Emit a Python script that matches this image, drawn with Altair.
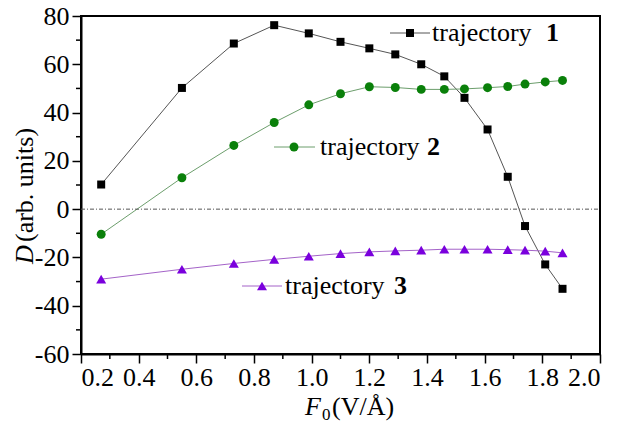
import altair as alt
import pandas as pd

# ---- data ----
F0 = [0.27, 0.55, 0.73, 0.87, 0.99, 1.10, 1.20, 1.29, 1.38, 1.46, 1.53, 1.61, 1.68, 1.74, 1.81, 1.87]
traj1 = [10.2, 50.2, 68.6, 76.2, 72.8, 69.3, 66.6, 64.1, 60.0, 55.0, 46.1, 33.0, 13.4, -7.0, -22.9, -33.0]
traj2 = [-10.4, 13.0, 26.4, 35.9, 43.2, 47.8, 50.7, 50.4, 49.6, 49.6, 49.8, 50.3, 50.8, 51.8, 52.7, 53.3]
traj3 = [-29.0, -24.9, -22.5, -20.8, -19.5, -18.4, -17.7, -17.3, -17.0, -16.6, -16.6, -16.6, -16.8, -17.0, -17.4, -18.1]

x_major = [0.2, 0.4, 0.6, 0.8, 1.0, 1.2, 1.4, 1.6, 1.8, 2.0]
x_minor = [0.3, 0.5, 0.7, 0.9, 1.1, 1.3, 1.5, 1.7, 1.9]
y_major = [-60, -40, -20, 0, 20, 40, 60, 80]
y_minor = [-50, -30, -10, 10, 30, 50, 70]

series_names = ["trajectory ", "trajectory", "trajectory"]
series_nums = ["1", "2", "3"]

# ---- layout ----
PL, PT, W, H = 81, 16, 519, 338
FONT = "Liberation Serif, Times New Roman, Times, serif"

xs = alt.Scale(domain=[0.2, 2.0], nice=False, zero=False)
ys = alt.Scale(domain=[-60, 80], nice=False, zero=False)

x_axis = alt.Axis(values=x_major, format=".1f", title=None, grid=False,
                  labelFont=FONT, labelFontSize=26, labelColor="black",
                  tickColor="black", tickWidth=1.5, tickSize=9,
                  domainColor="black", domainWidth=2, labelPadding=1)
y_axis = alt.Axis(values=y_major, title=None, grid=False,
                  labelExpr="'' + datum.value",
                  labelFont=FONT, labelFontSize=26, labelColor="black",
                  tickColor="black", tickWidth=1.5, tickSize=9,
                  domainColor="black", domainWidth=2, labelPadding=3)

one = pd.DataFrame({"k": [0]})


def series_layers(yvals, line_color, pt_color, shape, size):
    df = pd.DataFrame({"F0": F0, "D": yvals})
    base = alt.Chart(df).encode(
        x=alt.X("F0:Q", scale=xs, axis=x_axis),
        y=alt.Y("D:Q", scale=ys, axis=y_axis),
    )
    line = base.mark_line(color=line_color, strokeWidth=1)
    pts = base.mark_point(shape=shape, filled=True, color=pt_color, size=size, opacity=1)
    return [line, pts]


zero_line = alt.Chart(pd.DataFrame({"D": [0]})).mark_rule(
    color="#555555", strokeDash=[4, 2, 1, 2], strokeWidth=1).encode(
    y=alt.Y("D:Q", scale=ys, axis=y_axis), x=alt.value(0), x2=alt.value(W)
)

minor_x = alt.Chart(pd.DataFrame({"F0": x_minor})).mark_rule(color="black", strokeWidth=1.5).encode(
    x=alt.X("F0:Q", scale=xs, axis=x_axis), y=alt.value(H), y2=alt.value(H + 5)
)
minor_y = alt.Chart(pd.DataFrame({"D": y_minor})).mark_rule(color="black", strokeWidth=1.5).encode(
    y=alt.Y("D:Q", scale=ys, axis=y_axis), x=alt.value(-5), x2=alt.value(0)
)


def legend(x1, x2, xm, ym, line_color, pt_color, shape, size, tx, nx, base_y, name, num):
    r = alt.Chart(one).mark_rule(color=line_color, strokeWidth=1).encode(
        x=alt.value(x1 - PL), x2=alt.value(x2 - PL), y=alt.value(ym - PT))
    p = alt.Chart(one).mark_point(shape=shape, filled=True, color=pt_color, size=size, opacity=1).encode(
        x=alt.value(xm - PL), y=alt.value(ym - PT))
    t = alt.Chart(one).mark_text(text=name, font=FONT, fontSize=26, align="left",
                                 baseline="alphabetic", color="black").encode(
        x=alt.value(tx - PL), y=alt.value(base_y - PT))
    n = alt.Chart(one).mark_text(text=num, font=FONT, fontSize=26, fontWeight="bold", align="left",
                                 baseline="alphabetic", color="black").encode(
        x=alt.value(nx - PL), y=alt.value(base_y - PT))
    return [r, p, t, n]


C1L, C1P = "#555555", "#000000"
C2L, C2P = "#6c9e6c", "#0a800a"
C3L, C3P = "#a463c8", "#7a00dd"

layers = []
layers += series_layers(traj1, C1L, C1P, "square", 64)
layers += series_layers(traj2, C2L, C2P, "circle", 80)
layers += series_layers(traj3, C3L, C3P, "triangle-up", 100)
layers += [zero_line, minor_x, minor_y]
layers += legend(390, 430, 410, 33, C1L, C1P, "square", 64, 432, 546, 41, series_names[0], series_nums[0])
layers += legend(274, 315, 294, 147, C2L, C2P, "circle", 80, 320, 427, 155, series_names[1], series_nums[1])
layers += legend(242, 282, 262, 286, C3L, C3P, "triangle-up", 100, 285, 394, 294, series_names[2], series_nums[2])

# axis titles as text (mixed italic / subscript)
ytitle_D = alt.Chart(one).mark_text(text="D", font=FONT, fontSize=26, fontStyle="italic", angle=270,
                                    align="left", baseline="alphabetic", color="black").encode(
    x=alt.value(33 - PL), y=alt.value(264 - PT))
ytitle_rest = alt.Chart(one).mark_text(text="(arb. units)", font=FONT, fontSize=26, angle=270,
                                       align="left", baseline="alphabetic", color="black").encode(
    x=alt.value(33 - PL), y=alt.value(242 - PT))
xtitle_F = alt.Chart(one).mark_text(text="F", font=FONT, fontSize=26, fontStyle="italic",
                                    align="left", baseline="alphabetic", color="black").encode(
    x=alt.value(305 - PL), y=alt.value(415 - PT))
xtitle_0 = alt.Chart(one).mark_text(text="0", font=FONT, fontSize=17,
                                    align="left", baseline="alphabetic", color="black").encode(
    x=alt.value(322 - PL), y=alt.value(420 - PT))
xtitle_rest = alt.Chart(one).mark_text(text="(V/Å)", font=FONT, fontSize=26,
                                       align="left", baseline="alphabetic", color="black").encode(
    x=alt.value(332 - PL), y=alt.value(415 - PT))
layers += [ytitle_D, ytitle_rest, xtitle_F, xtitle_0, xtitle_rest]

chart = alt.layer(*layers).properties(
    width=W, height=H,
    padding={"left": PL, "top": PT, "right": 619 - PL - W, "bottom": 433 - PT - H},
    autosize=alt.AutoSizeParams(type="none"),
    background="white",
).configure_view(stroke="black", strokeWidth=2)

chart.save("out.html", embed_options={"renderer": "svg", "actions": False})
